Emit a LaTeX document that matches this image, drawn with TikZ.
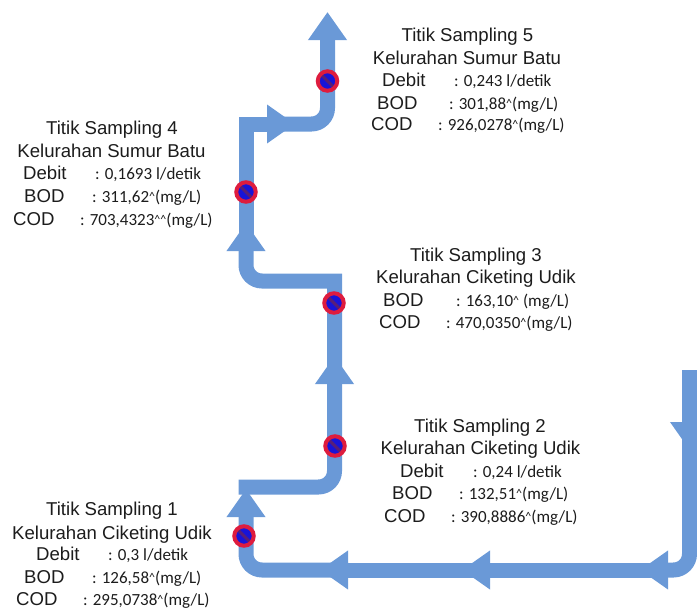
\documentclass[tikz,border=0pt]{standalone}
\usepackage{fontspec}
\setmainfont{Liberation Sans}
\newfontfamily\valuefont{Carlito}
\usetikzlibrary{
  arrows.meta,
  positioning
}
\definecolor{FlowBlue}{RGB}{106,153,215}
\definecolor{RingRed}{RGB}{222,28,62}
\definecolor{DotBlue}{RGB}{24,20,215}
\definecolor{StripePurple}{RGB}{88,30,120}
\definecolor{TextDark}{RGB}{28,28,28}
\newcommand{\caretmark}{\raisebox{1.5pt}{\fontsize{12}{12}\selectfont\textasciicircum}}
\tikzset{
  flow/.style={-{Triangle[length=28pt,width=37pt]},line width=15pt,draw=FlowBlue},
  flowbend/.style={flow,rounded corners=16pt},
  sampledot/.style={
    circle,
    draw=RingRed,
    fill=DotBlue,
    line width=4pt,
    minimum size=19.5pt,
    inner sep=0pt,
    path picture={\draw[StripePurple,line width=3pt]
      (path picture bounding box.north west) -- (path picture bounding box.south east);}
  },
  titletext/.style={font=\fontsize{18.6}{20}\selectfont,text=TextDark,anchor=base,inner sep=0pt},
  labeltext/.style={font=\fontsize{18.6}{20}\selectfont,text=TextDark,anchor=base west,inner sep=0pt},
  valuetext/.style={font=\valuefont\fontsize{17}{20}\selectfont,text=TextDark,anchor=base west,inner sep=0pt}
}
\begin{document}
\begin{tikzpicture}[x=1pt,y=-1pt]
  \useasboundingbox (0,0) rectangle (697,608);

  % stream points
  \coordinate (inlet) at (689.5,370);
  \coordinate (baseA) at (689.5,422);
  \coordinate (headA) at (689.5,450);
  \coordinate (bendA) at (689.5,570);
  \coordinate (baseB) at (668,570);
  \coordinate (headB) at (640,570);
  \coordinate (baseC) at (490,570);
  \coordinate (headC) at (462,570);
  \coordinate (baseD) at (348,570);
  \coordinate (headD) at (320,570);
  \coordinate (bendB) at (246,570);
  \coordinate (headE) at (246,489);
  \coordinate (startF) at (238.5,487);
  \coordinate (bendF) at (334.5,487);
  \coordinate (baseF) at (334.5,384);
  \coordinate (headF) at (334.5,356);
  \coordinate (turnG) at (334.5,281);
  \coordinate (bendG) at (246,281);
  \coordinate (baseG) at (246,251);
  \coordinate (headG) at (246,223);
  \coordinate (cornerH) at (246,124);
  \coordinate (baseH) at (267,124);
  \coordinate (headH) at (295,124);
  \coordinate (bendI) at (327.5,124);
  \coordinate (outlet) at (327.5,12);

  \draw[flow] (inlet) -- (headA);
  \draw[flowbend] (baseA) -- (bendA) -- (headB);
  \draw[flow] (baseB) -- (headC);
  \draw[flow] (baseC) -- (headD);
  \draw[flowbend] (baseD) -- (bendB) -- (headE);
  \draw[flowbend] (startF) -- (bendF) -- (headF);
  \draw[flow] (baseF) -- (turnG) [rounded corners=16pt] -- (bendG) -- (headG);
  \draw[flow] (baseG) -- (cornerH) -- (headH);
  \draw[flowbend] (baseH) -- (bendI) -- (outlet);

  % sampling points
  \node[sampledot] (dot1) at (244,536) {};
  \node[sampledot] (dot2) at (335,446) {};
  \node[sampledot] (dot3) at (334,303) {};
  \node[sampledot] (dot4) at (246,192) {};
  \node[sampledot] (dot5) at (327.5,81) {};

  % sampling 1
  \node[titletext] (title1) at (112,515) {Titik Sampling 1};
  \node[titletext] (area1) at (112,539) {Kelurahan Ciketing Udik};
  \node[labeltext] (debit1) at (36,560) {Debit};
  \node[valuetext] (debitval1) at (108,560) {: 0,3 l/detik};
  \node[labeltext] (bod1) at (24,583) {BOD};
  \node[valuetext] (bodval1) at (92,583) {: 126,58\caretmark(mg/L)};
  \node[labeltext] (cod1) at (16,605) {COD};
  \node[valuetext] (codval1) at (83,605) {: 295,0738\caretmark(mg/L)};

  % sampling 2
  \node[titletext] (title2) at (480,432) {Titik Sampling 2};
  \node[titletext] (area2) at (480.5,454) {Kelurahan Ciketing Udik};
  \node[labeltext] (debit2) at (400,477) {Debit};
  \node[valuetext] (debitval2) at (473,477) {: 0,24 l/detik};
  \node[labeltext] (bod2) at (392,499) {BOD};
  \node[valuetext] (bodval2) at (459,499) {: 132,51\caretmark(mg/L)};
  \node[labeltext] (cod2) at (384,522) {COD};
  \node[valuetext] (codval2) at (451,522) {: 390,8886\caretmark(mg/L)};

  % sampling 3
  \node[titletext] (title3) at (476,261) {Titik Sampling 3};
  \node[titletext] (area3) at (476,283) {Kelurahan Ciketing Udik};
  \node[labeltext] (bod3) at (383,306) {BOD};
  \node[valuetext] (bodval3) at (456,306) {: 163,10\caretmark{} (mg/L)};
  \node[labeltext] (cod3) at (379,328) {COD};
  \node[valuetext] (codval3) at (446,328) {: 470,0350\caretmark(mg/L)};

  % sampling 4
  \node[titletext] (title4) at (112,134) {Titik Sampling 4};
  \node[titletext] (area4) at (111.5,157) {Kelurahan Sumur Batu};
  \node[labeltext] (debit4) at (23,179) {Debit};
  \node[valuetext] (debitval4) at (95,179) {: 0,1693 l/detik};
  \node[labeltext] (bod4) at (24,202) {BOD};
  \node[valuetext] (bodval4) at (92,202) {: 311,62\caretmark(mg/L)};
  \node[labeltext] (cod4) at (13,225) {COD};
  \node[valuetext] (codval4) at (80,225) {: 703,4323\caretmark\caretmark(mg/L)};

  % sampling 5
  \node[titletext] (title5) at (467.5,41) {Titik Sampling 5};
  \node[titletext] (area5) at (467,64) {Kelurahan Sumur Batu};
  \node[labeltext] (debit5) at (382,86) {Debit};
  \node[valuetext] (debitval5) at (454,86) {: 0,243 l/detik};
  \node[labeltext] (bod5) at (377,109) {BOD};
  \node[valuetext] (bodval5) at (449,109) {: 301,88\caretmark(mg/L)};
  \node[labeltext] (cod5) at (371,130) {COD};
  \node[valuetext] (codval5) at (438,130) {: 926,0278\caretmark(mg/L)};
\end{tikzpicture}
\end{document}
